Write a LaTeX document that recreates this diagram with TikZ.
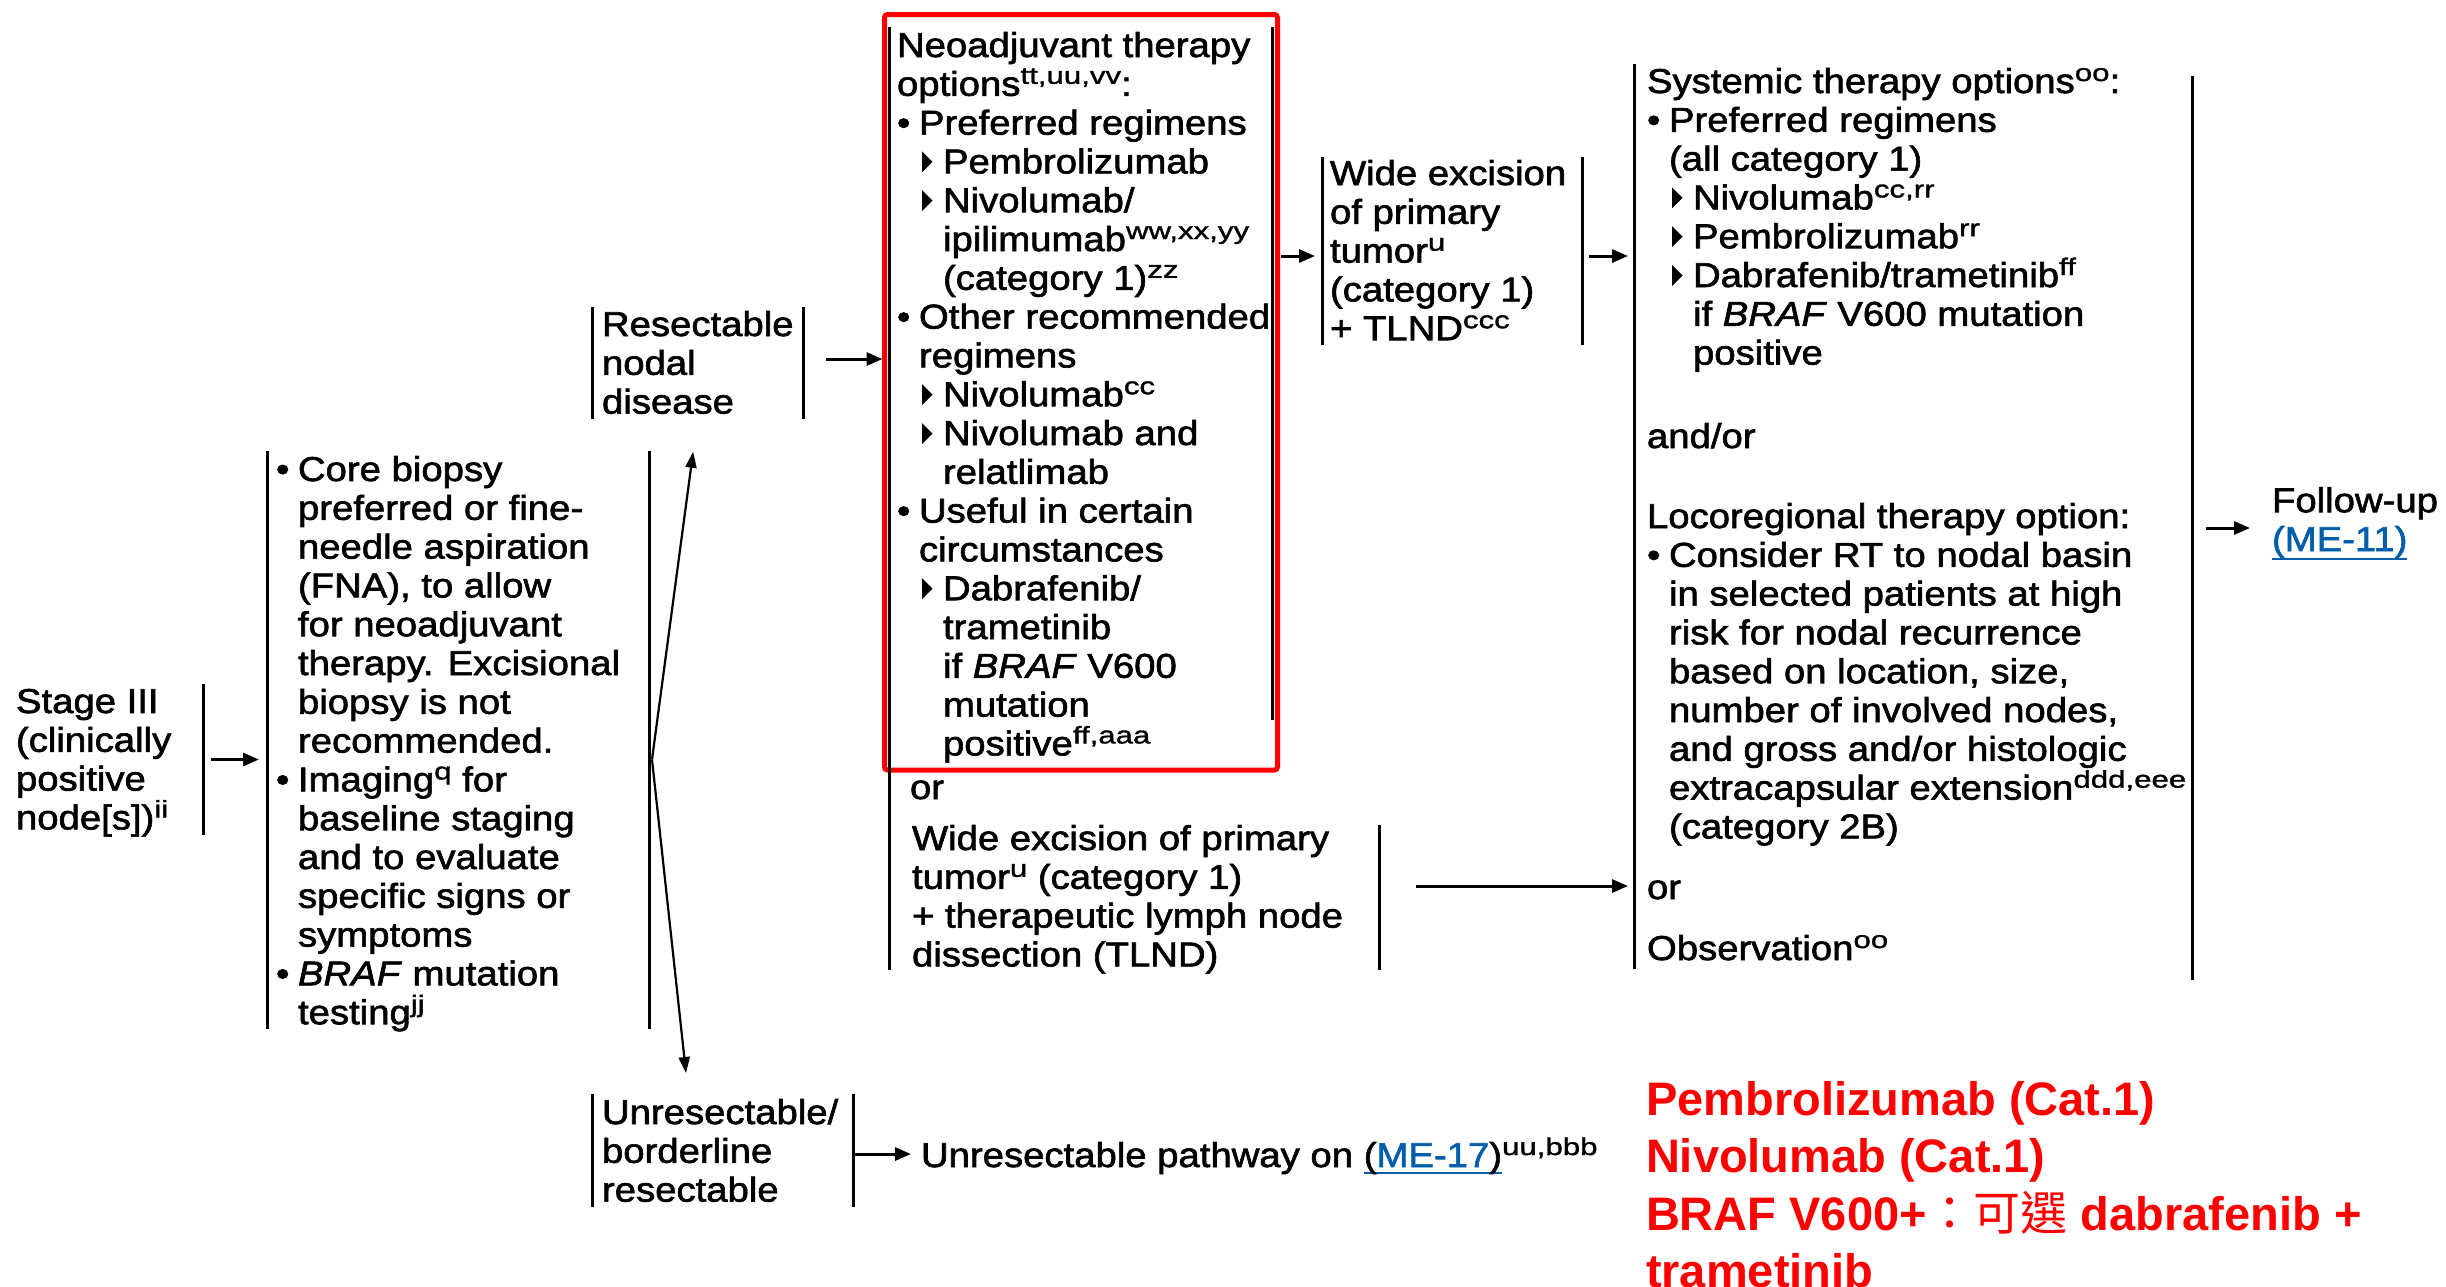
\documentclass[tikz,border=0pt]{standalone}
\usepackage{fontspec}
\setmainfont{Liberation Sans}[FakeStretch=1.11,FakeBold=1.8]
\newfontfamily\supfont{Liberation Sans}[FakeStretch=1.3,FakeBold=1.4]
\newfontfamily\redfont{Liberation Sans}
\newfontfamily\cjk{Noto Sans CJK TC}
\usetikzlibrary{arrows.meta,calc}
\definecolor{lnk}{RGB}{0,94,170}
% text sizes and small helpers
\newcommand\txtsz{\fontsize{34.5}{38.8}\selectfont}
\newcommand\supx[1]{\raisebox{12pt}{\supfont\fontsize{24}{24}\selectfont #1}}
\newcommand\trig{\tikz[baseline=0pt]\fill (0pt,1pt) -- (0pt,22pt) -- (10.5pt,11.5pt) -- cycle;}
\newcommand\bul{\makebox[22pt][l]{•}}
\newcommand\trl{\hspace*{25pt}\makebox[21pt][l]{\trig}}
\newcommand\inda{\hspace*{22pt}}
\newcommand\indb{\hspace*{46pt}}
\newcommand\ulnk[2]{\setbox0=\hbox{#2}\rlap{\color{lnk}\rule[#1]{\wd0}{2.5pt}}\box0}
% multi-line text nodes are placed by the baseline of their last line
\tikzset{
  bar/.style={line width=3pt},
  arr/.style={line width=3pt,-{Triangle[length=16pt,width=13pt]}},
  darr/.style={line width=2.2pt,-{Triangle[length=16pt,width=11pt]}},
  blk/.style={draw=none,inner sep=0pt,outer sep=0pt,anchor=north west},
  txt/.style={anchor=base west,inner sep=0pt,outer sep=0pt,align=left,font=\txtsz},
  hilite/.style={blk,draw=red,line width=5pt,rounded corners=3pt},
  redtxt/.style={txt,text=red,font=\redfont\bfseries\fontsize{47}{57.5}\selectfont},
}
\begin{document}
\begin{tikzpicture}[x=1pt,y=-1pt]
\useasboundingbox (0,0) rectangle (2446,1286);
\fill[white] (0,0) rectangle (2446,1286);

% bracket blocks
\node[blk,minimum width=187pt,minimum height=151pt] (stage) at (16,684) {};
\node[blk,minimum width=382pt,minimum height=578pt] (core) at (267,451) {};
\node[blk,minimum width=211pt,minimum height=112pt] (resect) at (592,307) {};
\node[blk,minimum width=261pt,minimum height=113pt] (unres) at (592,1094) {};
\node[blk,minimum width=383pt,minimum height=693pt] (neo) at (889,27) {};
\node[blk,minimum width=490pt,minimum height=145pt] (wel) at (889,825) {};
\node[blk,minimum width=260pt,minimum height=188pt] (wide) at (1322,157) {};
\node[blk,minimum width=558pt,minimum height=916pt] (sys) at (1634,64) {};
\node[hilite,minimum width=393pt,minimum height=755.5pt] (hl) at (884.5,14.5) {};

\draw[bar] (stage.north east) -- (stage.south east);
\draw[bar] (core.north west) -- (core.south west);
\draw[bar] (core.north east) -- (core.south east);
\draw[bar] (resect.north west) -- (resect.south west);
\draw[bar] (resect.north east) -- (resect.south east);
\draw[bar] (unres.north west) -- (unres.south west);
\draw[bar] (unres.north east) -- (unres.south east);
\draw[bar] (neo.north west) -- (wel.south west);
\draw[bar] (neo.north east) -- (neo.south east);
\draw[bar] (wel.north east) -- (wel.south east);
\draw[bar] (wide.north west) -- (wide.south west);
\draw[bar] (wide.north east) -- (wide.south east);
\draw[bar] (sys.north west) -- ($(sys.south west)+(0,-11)$);
\draw[bar] ($(sys.north east)+(0,12)$) -- (sys.south east);

% texts
\node[txt] (stagetxt) at (16,829.4) {Stage III\\(clinically\\positive\\node[s])\supx{ii}};

\node[txt] (coretxt) at (276,1024.2) {\bul Core biopsy\\
\inda preferred or fine-\\
\inda needle aspiration\\
\inda (FNA), to allow\\
\inda for neoadjuvant\\
\inda therapy. Excisional\\
\inda biopsy is not\\
\inda recommended.\\
\bul Imaging\supx{q} for\\
\inda baseline staging\\
\inda and to evaluate\\
\inda specific signs or\\
\inda symptoms\\
\bul \textit{BRAF} mutation\\
\inda testing\supx{jj}};

\node[txt] (resecttxt) at (602,413.6) {Resectable\\nodal\\disease};
\node[txt] (unrestxt) at (602,1201.6) {Unresectable/\\borderline\\resectable};

\node[txt] (neotxt) at (897,755.4) {Neoadjuvant therapy\\
options\supx{tt,uu,vv}:\\
\bul Preferred regimens\\
\trl Pembrolizumab\\
\trl Nivolumab/\\
\indb ipilimumab\supx{ww,xx,yy}\\
\indb (category 1)\supx{zz}\\
\bul Other recommended\\
\inda regimens\\
\trl Nivolumab\supx{cc}\\
\trl Nivolumab and\\
\indb relatlimab\\
\bul Useful in certain\\
\inda circumstances\\
\trl Dabrafenib/\\
\indb trametinib\\
\indb if \textit{BRAF} V600\\
\indb mutation\\
\indb positive\supx{ff,aaa}};

\node[txt] (or1) at (910,799) {or};
\node[txt] (weltxt) at (912,966.4) {Wide excision of primary\\tumor\supx{u} (category 1)\\+ therapeutic lymph node\\dissection (TLND)};

\node[txt] (widetxt) at (1330,340.2) {Wide excision\\of primary\\tumor\supx{u}\\(category 1)\\+ TLND\supx{ccc}};

\node[txt] (systxt) at (1647,364.6) {Systemic therapy options\supx{oo}:\\
\bul Preferred regimens\\
\inda (all category 1)\\
\trl Nivolumab\supx{cc,rr}\\
\trl Pembrolizumab\supx{rr}\\
\trl Dabrafenib/trametinib\supx{ff}\\
\indb if \textit{BRAF} V600 mutation\\
\indb positive};
\node[txt] (andor) at (1647,448) {and/or};
\node[txt] (loco) at (1647,838.4) {Locoregional therapy option:\\
\bul Consider RT to nodal basin\\
\inda in selected patients at high\\
\inda risk for nodal recurrence\\
\inda based on location, size,\\
\inda number of involved nodes,\\
\inda and gross and/or histologic\\
\inda extracapsular extension\supx{ddd,eee}\\
\inda (category 2B)};
\node[txt] (or2) at (1647,899) {or};
\node[txt] (obs) at (1647,960) {Observation\supx{oo}};

\node[txt] (follow) at (2272,551) {Follow-up\\\ulnk{-9pt}{\color{lnk}(ME-11)}};
\node[txt] (path) at (921,1167) {Unresectable pathway on \ulnk{-7pt}{(\textcolor{lnk}{ME-17})}\supx{uu,bbb}};

\node[redtxt] (note) at (1646,1287.5) {Pembrolizumab (Cat.1)\\Nivolumab (Cat.1)\\BRAF V600+{\cjk\mdseries ：可選} dabrafenib +\\trametinib};

% connectors
\draw[arr,shorten <=8pt,shorten >=8pt] (stage.east) -- (stage.east -| core.west);
\coordinate (fork) at ($(stage.east -| core.east)+(3,0)$);
\draw[darr,shorten >=33pt] (fork) -- (resect.south);
\draw[darr] (fork) -- ($(unres.north west)+(94,-21)$);
\draw[arr,shorten <=23pt,shorten >=2pt] ($(resect.east)+(0,-4)$) -- ($(resect.east -| hl.west)+(0,-4)$);
\draw[arr,shorten <=3pt,shorten >=7pt] ($(wide.west -| hl.east)+(0,5)$) -- ($(wide.west)+(0,5)$);
\draw[arr,shorten <=7pt,shorten >=6pt] ($(wide.east)+(0,5)$) -- ($(wide.east -| sys.west)+(0,5)$);
\draw[arr,shorten <=37pt,shorten >=6pt] ($(wel.east)+(0,-11.5)$) -- ($(wel.east -| sys.west)+(0,-11.5)$);
\draw[arr,shorten <=14pt,shorten >=22pt] ($(sys.east)+(0,6)$) -- ($(sys.east -| follow.west)+(0,6)$);
\draw[arr,shorten >=10pt] ($(unres.east)+(0,3.5)$) -- ($(unres.east -| path.west)+(0,3.5)$);
\end{tikzpicture}
\end{document}
